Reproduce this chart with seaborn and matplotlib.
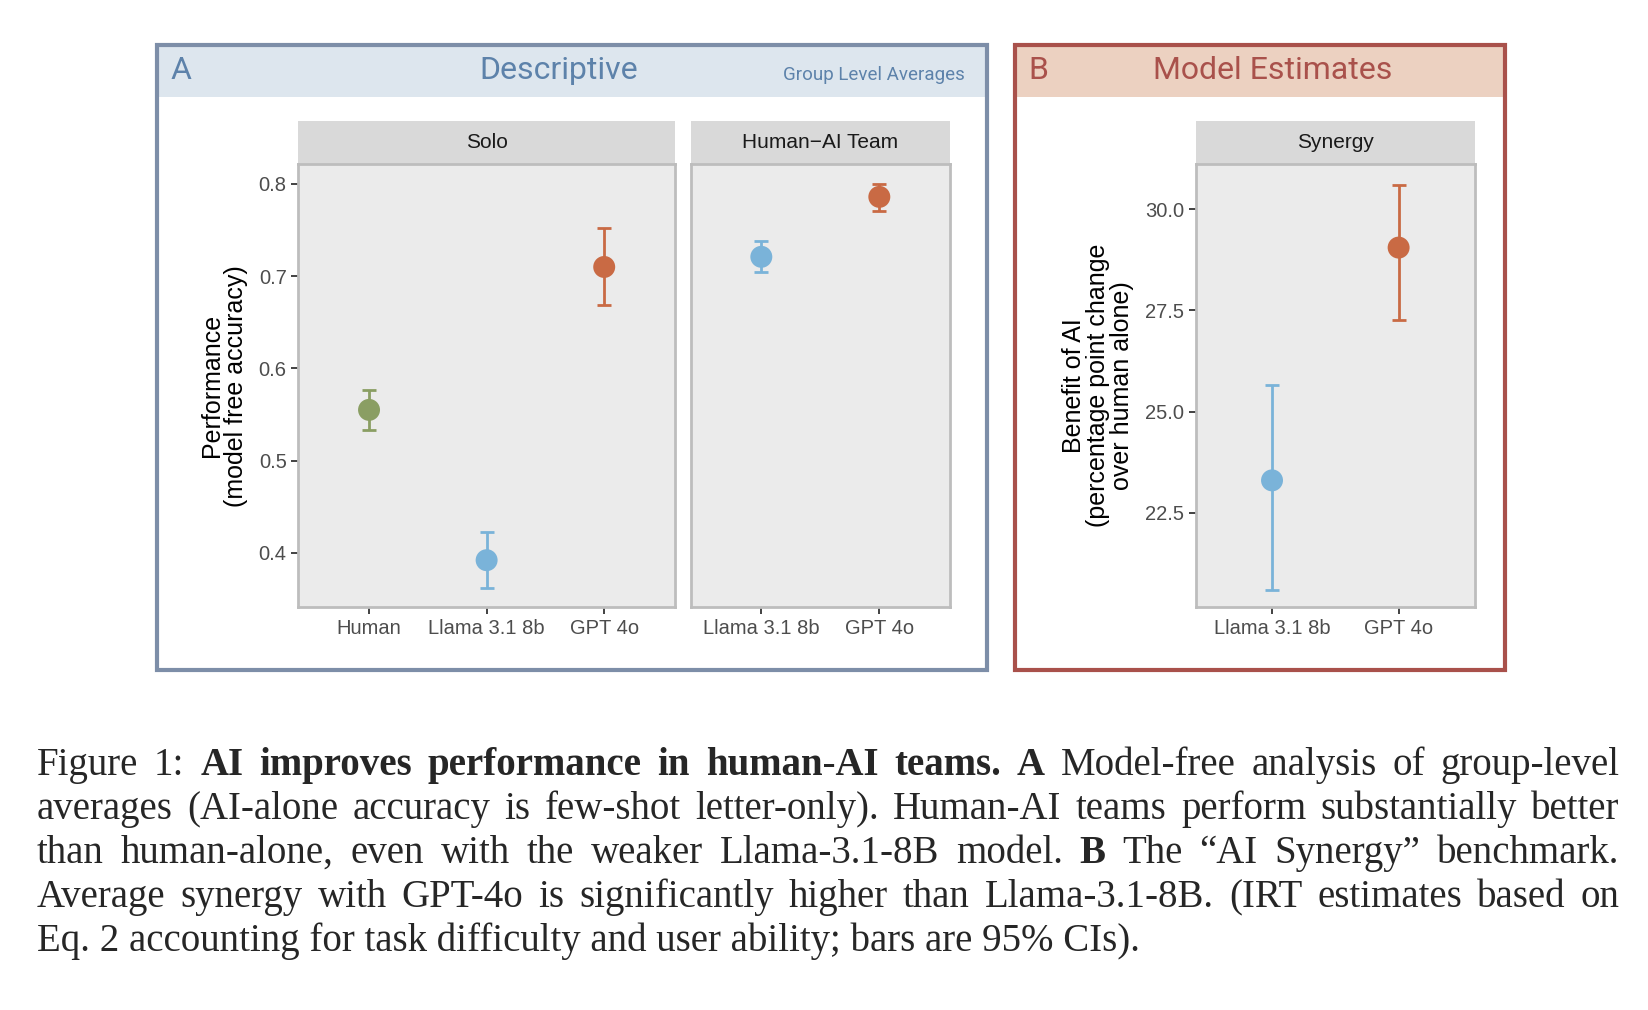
import matplotlib
matplotlib.use("Agg")
import matplotlib.pyplot as plt
import pandas as pd
import seaborn as sns
from matplotlib.patches import Rectangle

sns.set_theme(style="white")
plt.rcParams["font.family"] = ["Liberation Sans", "DejaVu Sans"]

# data
solo_models = ["Human", "Llama 3.1 8b", "GPT 4o"]
solo_mean = [0.555, 0.392, 0.710]
solo_lo = [0.533, 0.362, 0.669]
solo_hi = [0.577, 0.423, 0.752]

team_models = ["Llama 3.1 8b", "GPT 4o"]
team_mean = [0.721, 0.786]
team_lo = [0.705, 0.771]
team_hi = [0.738, 0.800]

syn_models = ["Llama 3.1 8b", "GPT 4o"]
syn_mean = [23.3, 29.05]
syn_lo = [20.6, 27.25]
syn_hi = [25.65, 30.6]

colors = {"Human": "#8a9e63", "Llama 3.1 8b": "#7ab3d9", "GPT 4o": "#c96a44"}

W, H = 1648, 1010
K = 1648 / 1568  # layout measured on a scaled view
fig = plt.figure(figsize=(W / 100, H / 100), dpi=100)


def ax_px(x0, y0, x1, y1):
    x0, y0, x1, y1 = x0 * K, y0 * K, x1 * K, y1 * K
    return fig.add_axes([x0 / W, 1 - y1 / H, (x1 - x0) / W, (y1 - y0) / H])


def fig_rect(x0, y0, x1, y1, **kw):
    x0, y0, x1, y1 = x0 * K, y0 * K, x1 * K, y1 * K
    fig.patches.append(Rectangle((x0 / W, 1 - y1 / H), (x1 - x0) / W, (y1 - y0) / H,
                                 transform=fig.transFigure, **kw))


def ftext(x, y, s, **kw):
    return fig.text(x * K / W, 1 - y * K / H, s, **kw)


def panel(ax, models, mean, lo, hi, ylim, yticks, strip):
    df = pd.DataFrame({"model": models, "mean": mean})
    ax.set_facecolor("#ebebeb")
    sns.scatterplot(data=df, x="model", y="mean", hue="model", palette=colors,
                    s=250, edgecolor="none", legend=False, ax=ax, zorder=3)
    for i, m in enumerate(models):
        ax.errorbar(i, mean[i], yerr=[[mean[i] - lo[i]], [hi[i] - mean[i]]],
                    color=colors[m], capsize=5, elinewidth=2, capthick=2, fmt="none", zorder=2)
    ax.set_xlim(-0.6, len(models) - 0.4)
    ax.set_ylim(*ylim)
    ax.set_yticks(yticks)
    ax.set_xlabel("")
    ax.set_ylabel("")
    for s in ax.spines.values():
        s.set_color("#bdbdbd")
        s.set_linewidth(2)
    ax.tick_params(axis="both", which="both", length=5, width=1.3, color="#333333",
                   labelsize=14.5, labelcolor="#4d4d4d", left=True, bottom=True)
    ax.add_patch(Rectangle((0, 1.0), 1, 41 / (578 - 156), transform=ax.transAxes,
                           facecolor="#d9d9d9", edgecolor="none", clip_on=False))
    ax.text(0.5, 1 + 20 / (578 - 156), strip, transform=ax.transAxes,
            ha="center", va="center", fontsize=15, color="#1a1a1a")


# panel boxes and headers
fig_rect(150, 44, 938, 92, facecolor="#dde6ee", edgecolor="none")
fig_rect(149, 43, 939, 637, facecolor="none", edgecolor="#7d8ea8", linewidth=3)
fig_rect(967, 44, 1431, 92, facecolor="#ecd1c1", edgecolor="none")
fig_rect(966, 43, 1432, 637, facecolor="none", edgecolor="#a9514b", linewidth=3)

hfont = ["Roboto", "DejaVu Sans"]
ftext(162, 67, "A", fontsize=23, color="#5d82aa", va="center", family=hfont)
ftext(532, 67, "Descriptive", fontsize=23, color="#5d82aa", va="center", ha="center", family=hfont)
ftext(918, 71, "Group Level Averages", fontsize=13.5, color="#5d82aa", va="center", ha="right",
      family=hfont)
ftext(978, 67, "B", fontsize=23, color="#a9514b", va="center", family=hfont)
ftext(1211, 67, "Model Estimates", fontsize=23, color="#a9514b", va="center", ha="center",
      family=hfont)

solo_ylim = (0.3407, 0.8217)
ax1 = ax_px(284, 156, 642, 578)
panel(ax1, solo_models, solo_mean, solo_lo, solo_hi, solo_ylim, [0.4, 0.5, 0.6, 0.7, 0.8], "Solo")
ax1.set_ylabel("Performance\n(model free accuracy)", fontsize=18, color="black", labelpad=8,
               linespacing=1.0)

ax2 = ax_px(657, 156, 904, 578)
panel(ax2, team_models, team_mean, team_lo, team_hi, solo_ylim, [0.4, 0.5, 0.6, 0.7, 0.8],
      "Human\u2212AI Team")
ax2.tick_params(axis="y", left=False, labelleft=False)

ax3 = ax_px(1138, 156, 1403, 578)
panel(ax3, syn_models, syn_mean, syn_lo, syn_hi, (20.16, 31.116), [22.5, 25.0, 27.5, 30.0], "Synergy")
ax3.set_yticklabels(["22.5", "25.0", "27.5", "30.0"])
ax3.set_ylabel("Benefit of AI\n(percentage point change\nover human alone)", fontsize=18,
               color="black", labelpad=8, linespacing=1.0)

# caption, justified
lines = [
    "Figure 1:  *AI *improves *performance *in *human-AI *teams. *A Model-free analysis of group-level",
    "averages (AI-alone accuracy is few-shot letter-only). Human-AI teams perform substantially better",
    "than human-alone, even with the weaker Llama-3.1-8B model.  *B The \u201cAI Synergy\u201d benchmark.",
    "Average synergy with GPT-4o is significantly higher than Llama-3.1-8B. (IRT estimates based on",
]
last = "Eq. 2 accounting for task difficulty and user ability; bars are 95% CIs)."
cap_font = ["Liberation Serif", "DejaVu Serif"]
cap_size = 28
left, right = 35 * K, 1541 * K
fig.canvas.draw()
renderer = fig.canvas.get_renderer()
for li, line in enumerate(lines):
    words = [(w[1:], True) if w.startswith("*") else (w, False) for w in line.split()]
    y = 1 - (728 + li * 42) * K / H
    texts = []
    total = 0
    for w, b in words:
        t = fig.text(0, y, w, fontsize=cap_size, family=cap_font, va="center",
                     fontweight="bold" if b else "normal")
        wpx = t.get_window_extent(renderer).width
        texts.append((t, wpx))
        total += wpx
    gap = (right - left - total) / (len(texts) - 1)
    x = left
    for t, wpx in texts:
        t.set_x(x / W)
        x += wpx + gap
fig.text(left / W, 1 - (728 + 4 * 42) * K / H, last, fontsize=cap_size, family=cap_font,
         va="center")

fig.savefig("out.png", dpi=100)
